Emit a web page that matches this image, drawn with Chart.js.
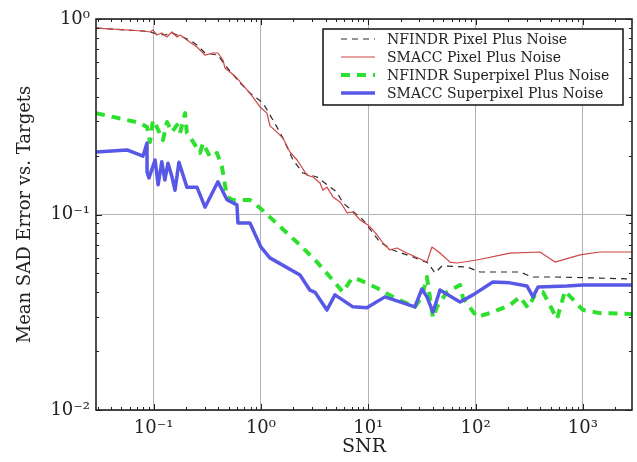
<!DOCTYPE html>
<html>
<head>
<meta charset="utf-8">
<script src="https://cdn.jsdelivr.net/npm/chart.js@4/dist/chart.umd.min.js"></script>
<style>
  html, body { margin: 0; padding: 0; background: #fff; }
  #chart { display: block; }
</style>
</head>
<body>
<canvas id="chart" width="637" height="462"></canvas>
<script>
// tick labels (log axes, decades only)
const xTickValues = [0.1, 1, 10, 100, 1000];
const xTickLabels = ["10⁻¹", "10⁰", "10¹", "10²", "10³"];
const yTickValues = [0.01, 0.1, 1];
const yTickLabels = ["10⁻²", "10⁻¹", "10⁰"];

// NFINDR Pixel Plus Noise
const nfindrPixelSnr = [0.029, 0.0795, 0.0924, 0.107, 0.127, 0.148, 0.176, 0.218, 0.253, 0.301, 0.397, 0.462, 0.637, 0.789, 1.044, 1.41, 1.6, 1.99, 2.46, 3.33, 5.11, 5.81, 8.93, 12.85, 17.0, 26.1, 36.0, 41.9, 48.6, 83.2, 110, 259, 336, 574, 2870];
const nfindrPixelErr = [0.899, 0.868, 0.858, 0.838, 0.828, 0.848, 0.818, 0.781, 0.736, 0.67, 0.654, 0.582, 0.471, 0.418, 0.372, 0.28, 0.246, 0.19, 0.163, 0.1555, 0.13, 0.1146, 0.0938, 0.0722, 0.0658, 0.0606, 0.0565, 0.0502, 0.0545, 0.0539, 0.0508, 0.0508, 0.0479, 0.0479, 0.0468];

// SMACC Pixel Plus Noise
const smaccPixelSnr = [0.029, 0.0795, 0.0924, 0.0985, 0.107, 0.119, 0.133, 0.148, 0.165, 0.176, 0.204, 0.253, 0.301, 0.357, 0.397, 0.442, 0.462, 0.514, 0.597, 0.679, 0.789, 0.98, 1.137, 1.213, 1.41, 1.6, 1.86, 2.17, 2.68, 3.05, 3.55, 3.78, 4.12, 4.69, 5.45, 5.81, 6.33, 7.2, 8.37, 9.93, 11.06, 12.05, 13.7, 15.9, 18.5, 22.9, 35.2, 39.2, 46.6, 57.7, 67.1, 103, 209, 398, 550, 940, 1442, 2870];
const smaccPixelErr = [0.899, 0.868, 0.858, 0.878, 0.828, 0.848, 0.809, 0.858, 0.809, 0.828, 0.781, 0.719, 0.654, 0.67, 0.67, 0.617, 0.561, 0.536, 0.499, 0.459, 0.418, 0.355, 0.33, 0.284, 0.264, 0.246, 0.209, 0.19, 0.159, 0.1555, 0.145, 0.133, 0.138, 0.123, 0.116, 0.1105, 0.102, 0.103, 0.0938, 0.0884, 0.0833, 0.0786, 0.0715, 0.0658, 0.0674, 0.0635, 0.0571, 0.0682, 0.0635, 0.0571, 0.0565, 0.0585, 0.0635, 0.0643, 0.0571, 0.0621, 0.0643, 0.0643];

// NFINDR Superpixel Plus Noise
const nfindrSuperSnr = [0.029, 0.0745, 0.0867, 0.0924, 0.0985, 0.107, 0.122, 0.133, 0.148, 0.165, 0.176, 0.196, 0.204, 0.2275, 0.27, 0.288, 0.335, 0.389, 0.433, 0.482, 0.548, 0.789, 0.98, 1.746, 2.31, 3.33, 4.4, 5.81, 7.05, 8.37, 12.05, 17.7, 27.2, 31.6, 35.2, 40.1, 43.7, 54.1, 71.6, 76.3, 103, 145, 209, 259, 308, 358, 425, 574, 681, 1000, 1442, 2870];
const nfindrSuperErr = [0.33, 0.294, 0.28, 0.235, 0.304, 0.28, 0.24, 0.297, 0.264, 0.287, 0.261, 0.33, 0.261, 0.24, 0.2065, 0.232, 0.197, 0.2065, 0.175, 0.123, 0.1186, 0.1186, 0.108, 0.0804, 0.0698, 0.0571, 0.0479, 0.0401, 0.0473, 0.0462, 0.0421, 0.0374, 0.0337, 0.0379, 0.0479, 0.0296, 0.0337, 0.0401, 0.0436, 0.0374, 0.0299, 0.0317, 0.0344, 0.0379, 0.0333, 0.0388, 0.0401, 0.0292, 0.0406, 0.0325, 0.0313, 0.031];

// SMACC Superpixel Plus Noise
const smaccSuperSnr = [0.029, 0.0564, 0.0795, 0.0867, 0.0867, 0.0904, 0.103, 0.11, 0.119, 0.127, 0.136, 0.148, 0.158, 0.172, 0.204, 0.253, 0.301, 0.397, 0.482, 0.597, 0.61, 0.789, 1.0, 1.21, 2.31, 2.86, 3.19, 4.12, 4.89, 7.2, 9.7, 14.3, 19.7, 27.2, 31.6, 35.2, 40.1, 46.6, 71.6, 94.6, 145, 209, 301, 343, 382, 711, 1000, 2870];
const smaccSuperErr = [0.209, 0.214, 0.199, 0.232, 0.165, 0.154, 0.19, 0.142, 0.186, 0.15, 0.183, 0.156, 0.133, 0.185, 0.138, 0.138, 0.109, 0.147, 0.119, 0.112, 0.0905, 0.0905, 0.068, 0.06, 0.049, 0.041, 0.04, 0.0325, 0.0388, 0.0337, 0.0333, 0.0379, 0.0357, 0.0337, 0.0416, 0.0379, 0.0317, 0.0411, 0.0357, 0.0388, 0.0452, 0.0447, 0.0431, 0.0379, 0.0426, 0.0431, 0.0436, 0.0436];

const serif = "DejaVu Serif";

function points(xs, ys) {
  return xs.map((x, i) => ({ x: x, y: ys[i] }));
}

// matplotlib-like frame, inward ticks and an in-axes legend
const framePlugin = {
  id: "frame",
  afterDatasetsDraw(chart) {
    const { ctx, chartArea: a, scales } = chart;
    ctx.save();
    ctx.strokeStyle = "#222";
    ctx.lineWidth = 1;
    const decadeTicks = (scale, cb) => {
      const lo = Math.floor(Math.log10(scale.min));
      const hi = Math.ceil(Math.log10(scale.max));
      for (let d = lo; d <= hi; d++) {
        for (let k = 1; k <= 9; k++) {
          const v = k * Math.pow(10, d);
          if (v < scale.min || v > scale.max) continue;
          cb(Math.round(scale.getPixelForValue(v)) + 0.5, k === 1 ? 6 : 3);
        }
      }
    };
    ctx.beginPath();
    decadeTicks(scales.x, (px, len) => {
      ctx.moveTo(px, a.bottom); ctx.lineTo(px, a.bottom - len);
      ctx.moveTo(px, a.top); ctx.lineTo(px, a.top + len);
    });
    decadeTicks(scales.y, (py, len) => {
      ctx.moveTo(a.left, py); ctx.lineTo(a.left + len, py);
      ctx.moveTo(a.right, py); ctx.lineTo(a.right - len, py);
    });
    ctx.stroke();
    ctx.lineWidth = 1.6;
    ctx.strokeRect(a.left, a.top, a.right - a.left, a.bottom - a.top);
    ctx.restore();
  },
  afterDraw(chart) {
    const { ctx } = chart;
    const box = { x: 323, y: 29, w: 300, h: 76 };
    ctx.save();
    ctx.fillStyle = "#fff";
    ctx.fillRect(box.x, box.y, box.w, box.h);
    ctx.strokeStyle = "#111";
    ctx.lineWidth = 1.5;
    ctx.strokeRect(box.x, box.y, box.w, box.h);
    ctx.font = "14px '" + serif + "'";
    ctx.textBaseline = "middle";
    chart.data.datasets.forEach((ds, i) => {
      const y = box.y + 10 + i * 18;
      ctx.beginPath();
      ctx.strokeStyle = ds.borderColor;
      ctx.lineWidth = ds.borderWidth;
      ctx.setLineDash(ds.borderDash || []);
      ctx.moveTo(341, y);
      ctx.lineTo(375, y);
      ctx.stroke();
      ctx.setLineDash([]);
      ctx.fillStyle = "#222";
      ctx.fillText(ds.label, 387, y + 1);
    });
    ctx.restore();
  },
};

new Chart(document.getElementById("chart"), {
  type: "line",
  data: {
    datasets: [
      {
        label: "NFINDR Pixel Plus Noise",
        data: points(nfindrPixelSnr, nfindrPixelErr),
        borderColor: "#2a2a2a",
        borderWidth: 1.2,
        borderDash: [6, 5],
        order: 4,
      },
      {
        label: "SMACC Pixel Plus Noise",
        data: points(smaccPixelSnr, smaccPixelErr),
        borderColor: "#d04545",
        borderWidth: 1.2,
        order: 3,
      },
      {
        label: "NFINDR Superpixel Plus Noise",
        data: points(nfindrSuperSnr, nfindrSuperErr),
        borderColor: "#2ee02e",
        borderWidth: 4,
        borderDash: [9, 7],
        order: 2,
      },
      {
        label: "SMACC Superpixel Plus Noise",
        data: points(smaccSuperSnr, smaccSuperErr),
        borderColor: "#5858e6",
        borderWidth: 3.5,
        order: 1,
      },
    ],
  },
  options: {
    responsive: false,
    devicePixelRatio: 1,
    animation: false,
    events: [],
    layout: { padding: { left: 0, right: 5, top: 19, bottom: 0 } },
    elements: {
      point: { radius: 0 },
      line: { tension: 0, fill: false, borderCapStyle: "butt", borderJoinStyle: "round" },
    },
    plugins: {
      legend: { display: false },
      tooltip: { enabled: false },
    },
    scales: {
      x: {
        type: "logarithmic",
        min: 0.029,
        max: 2870,
        afterBuildTicks: (s) => { s.ticks = xTickValues.map((v) => ({ value: v })); },
        afterFit: (s) => { s.height = 52; },
        ticks: {
          autoSkip: false,
          maxRotation: 0,
          padding: 8,
          color: "#222",
          font: { family: serif, size: 18 },
          callback: (v, i) => xTickLabels[i],
        },
        grid: { color: "#b3b3b3", lineWidth: 1, drawTicks: false },
        border: { display: false },
        title: {
          display: true,
          text: "SNR",
          color: "#222",
          font: { family: serif, size: 19 },
          padding: { top: 0, bottom: 4 },
        },
      },
      y: {
        type: "logarithmic",
        min: 0.01,
        max: 1,
        afterBuildTicks: (s) => { s.ticks = yTickValues.map((v) => ({ value: v })); },
        afterFit: (s) => { s.width = 96; },
        ticks: {
          autoSkip: false,
          padding: 6,
          color: "#222",
          font: { family: serif, size: 18 },
          callback: (v, i) => yTickLabels[i],
        },
        grid: { color: "#b3b3b3", lineWidth: 1, drawTicks: false },
        border: { display: false },
        title: {
          display: true,
          text: "Mean SAD Error vs. Targets",
          color: "#222",
          font: { family: serif, size: 18 },
          padding: { top: 15, bottom: 0 },
        },
      },
    },
  },
  plugins: [framePlugin],
});
</script>
</body>
</html>
